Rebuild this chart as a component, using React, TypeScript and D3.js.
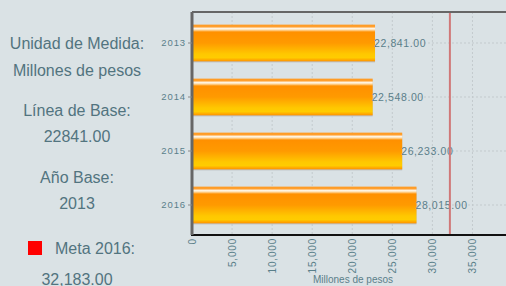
import React, { useEffect, useRef } from "react";
import * as d3 from "d3";

const years = ["2013", "2014", "2015", "2016"];
const values = [22841, 22548, 26233, 28015];
const xTicks = [0, 5000, 10000, 15000, 20000, 25000, 30000, 35000];
const meta = 32183;

const infoLines = [
  { text: "Unidad de Medida:", y: 49 },
  { text: "Millones de pesos", y: 76 },
  { text: "Línea de Base:", y: 116 },
  { text: "22841.00", y: 142 },
  { text: "Año Base:", y: 183 },
  { text: "2013", y: 209 },
];

const W = 506;
const H = 286;
const textColor = "#52747f";

const App = () => {
  const ref = useRef<SVGSVGElement>(null);

  useEffect(() => {
    const svg = d3.select(ref.current);
    svg.selectAll("*").remove();

    const left = 192;
    const top = 12;
    const bottom = 235;

    const x = d3.scaleLinear().domain([0, 40000]).range([left, left + 40000 * 0.008013]);
    const y = d3.scaleBand().domain(years).range([16, 232]).paddingInner(0.32).paddingOuter(0.16);

    svg.append("rect").attr("width", W).attr("height", H).attr("fill", "#dae2e5");

    const defs = svg.append("defs");
    const grad = defs.append("linearGradient").attr("id", "barGrad")
      .attr("x1", 0).attr("y1", 0).attr("x2", 0).attr("y2", 1);
    const stops: [number, string][] = [
      [0, "#ff9a20"], [0.06, "#ffa030"], [0.1, "#fff6e8"], [0.14, "#ffe0b0"],
      [0.2, "#ff9000"], [0.5, "#ff9a00"], [0.8, "#ffc800"], [0.9, "#ffcc00"], [1, "#ff9000"],
    ];
    stops.forEach(([o, c]) => grad.append("stop").attr("offset", o).attr("stop-color", c));

    // left info panel
    const info = svg.append("g").attr("font-family", "Liberation Sans, Arial, sans-serif")
      .attr("font-size", 16).attr("fill", textColor).attr("text-anchor", "middle");
    info.selectAll("text").data(infoLines).enter().append("text")
      .attr("x", 77).attr("y", d => d.y).text(d => d.text);
    svg.append("rect").attr("x", 28).attr("y", 241).attr("width", 14).attr("height", 14).attr("fill", "#ff0000");
    info.append("text").attr("x", 55).attr("y", 254).attr("text-anchor", "start").text("Meta 2016:");
    info.append("text").attr("x", 77).attr("y", 285).text(d3.format(",.2f")(meta));

    // grid
    const grid = svg.append("g").attr("stroke", "#c3cacd").attr("stroke-dasharray", "2,2").attr("stroke-width", 1);
    grid.selectAll(".vg").data([...xTicks.slice(1), 40000]).enter().append("line")
      .attr("x1", d => x(d)).attr("x2", d => x(d)).attr("y1", top).attr("y2", bottom);
    grid.selectAll(".hg").data(years).enter().append("line")
      .attr("x1", left).attr("x2", W).attr("y1", d => y(d)! + y.bandwidth() / 2).attr("y2", d => y(d)! + y.bandwidth() / 2);

    // bars
    const bars = svg.append("g");
    years.forEach((yr, i) => {
      bars.append("rect").attr("x", left).attr("y", y(yr)! + 1)
        .attr("width", x(values[i]) - left).attr("height", y.bandwidth()).attr("fill", "#b9c0c3");
      bars.append("rect").attr("x", left).attr("y", y(yr)!)
        .attr("width", x(values[i]) - left).attr("height", y.bandwidth()).attr("fill", "url(#barGrad)");
    });

    // value labels
    svg.append("g").selectAll("text").data(years).enter().append("text")
      .attr("x", (d, i) => x(values[i]) - 1)
      .attr("y", d => y(d)! + y.bandwidth() / 2 + 4)
      .attr("font-family", "Liberation Sans, Arial, sans-serif").attr("font-size", 10.5)
      .attr("letter-spacing", 0.6).attr("fill", "#5a7f8a")
      .text((d, i) => d3.format(",.2f")(values[i]));

    // meta line
    svg.append("line").attr("x1", x(meta)).attr("x2", x(meta)).attr("y1", top).attr("y2", bottom)
      .attr("stroke", "#d07878").attr("stroke-width", 2);

    // frame
    svg.append("line").attr("x1", left).attr("x2", W).attr("y1", top).attr("y2", top)
      .attr("stroke", "#666").attr("stroke-width", 2);
    svg.append("line").attr("x1", left - 1).attr("x2", W).attr("y1", bottom).attr("y2", bottom)
      .attr("stroke", "#111").attr("stroke-width", 2);

    // y axis
    const yAxis = svg.append("g").attr("transform", `translate(${left},0)`)
      .call(d3.axisLeft(y).tickSize(4).tickPadding(2));
    yAxis.select(".domain").attr("stroke", "#666").attr("stroke-width", 3).attr("d", `M0,${top}V${bottom}`);
    yAxis.selectAll(".tick line").attr("stroke", "#888");
    yAxis.selectAll(".tick text").attr("fill", "#5a7f8a").attr("font-size", 9.5)
      .attr("letter-spacing", 0.9).attr("font-family", "Liberation Sans, Arial, sans-serif");

    // x axis
    const xAxis = svg.append("g").attr("transform", `translate(0,${bottom})`)
      .call(d3.axisBottom(x).tickValues(xTicks).tickSize(0).tickFormat(d3.format(",")));
    xAxis.select(".domain").remove();
    xAxis.selectAll(".tick text").attr("fill", "#5a7f8a").attr("font-size", 10)
      .attr("letter-spacing", 0.8).attr("font-family", "Liberation Sans, Arial, sans-serif")
      .attr("text-anchor", "end").attr("transform", "rotate(-90)")
      .attr("x", -3).attr("y", 0).attr("dy", "0.35em");

    svg.append("text").attr("x", 353).attr("y", 283).attr("text-anchor", "middle")
      .attr("font-family", "Liberation Sans, Arial, sans-serif").attr("font-size", 10)
      .attr("fill", "#5a7f8a").text("Millones de pesos");
  }, []);

  return (
    <div style={{ position: "fixed", left: 0, top: 0 }}>
      <svg ref={ref} width={W} height={H} style={{ display: "block" }}></svg>
    </div>
  );
};

export default App;
